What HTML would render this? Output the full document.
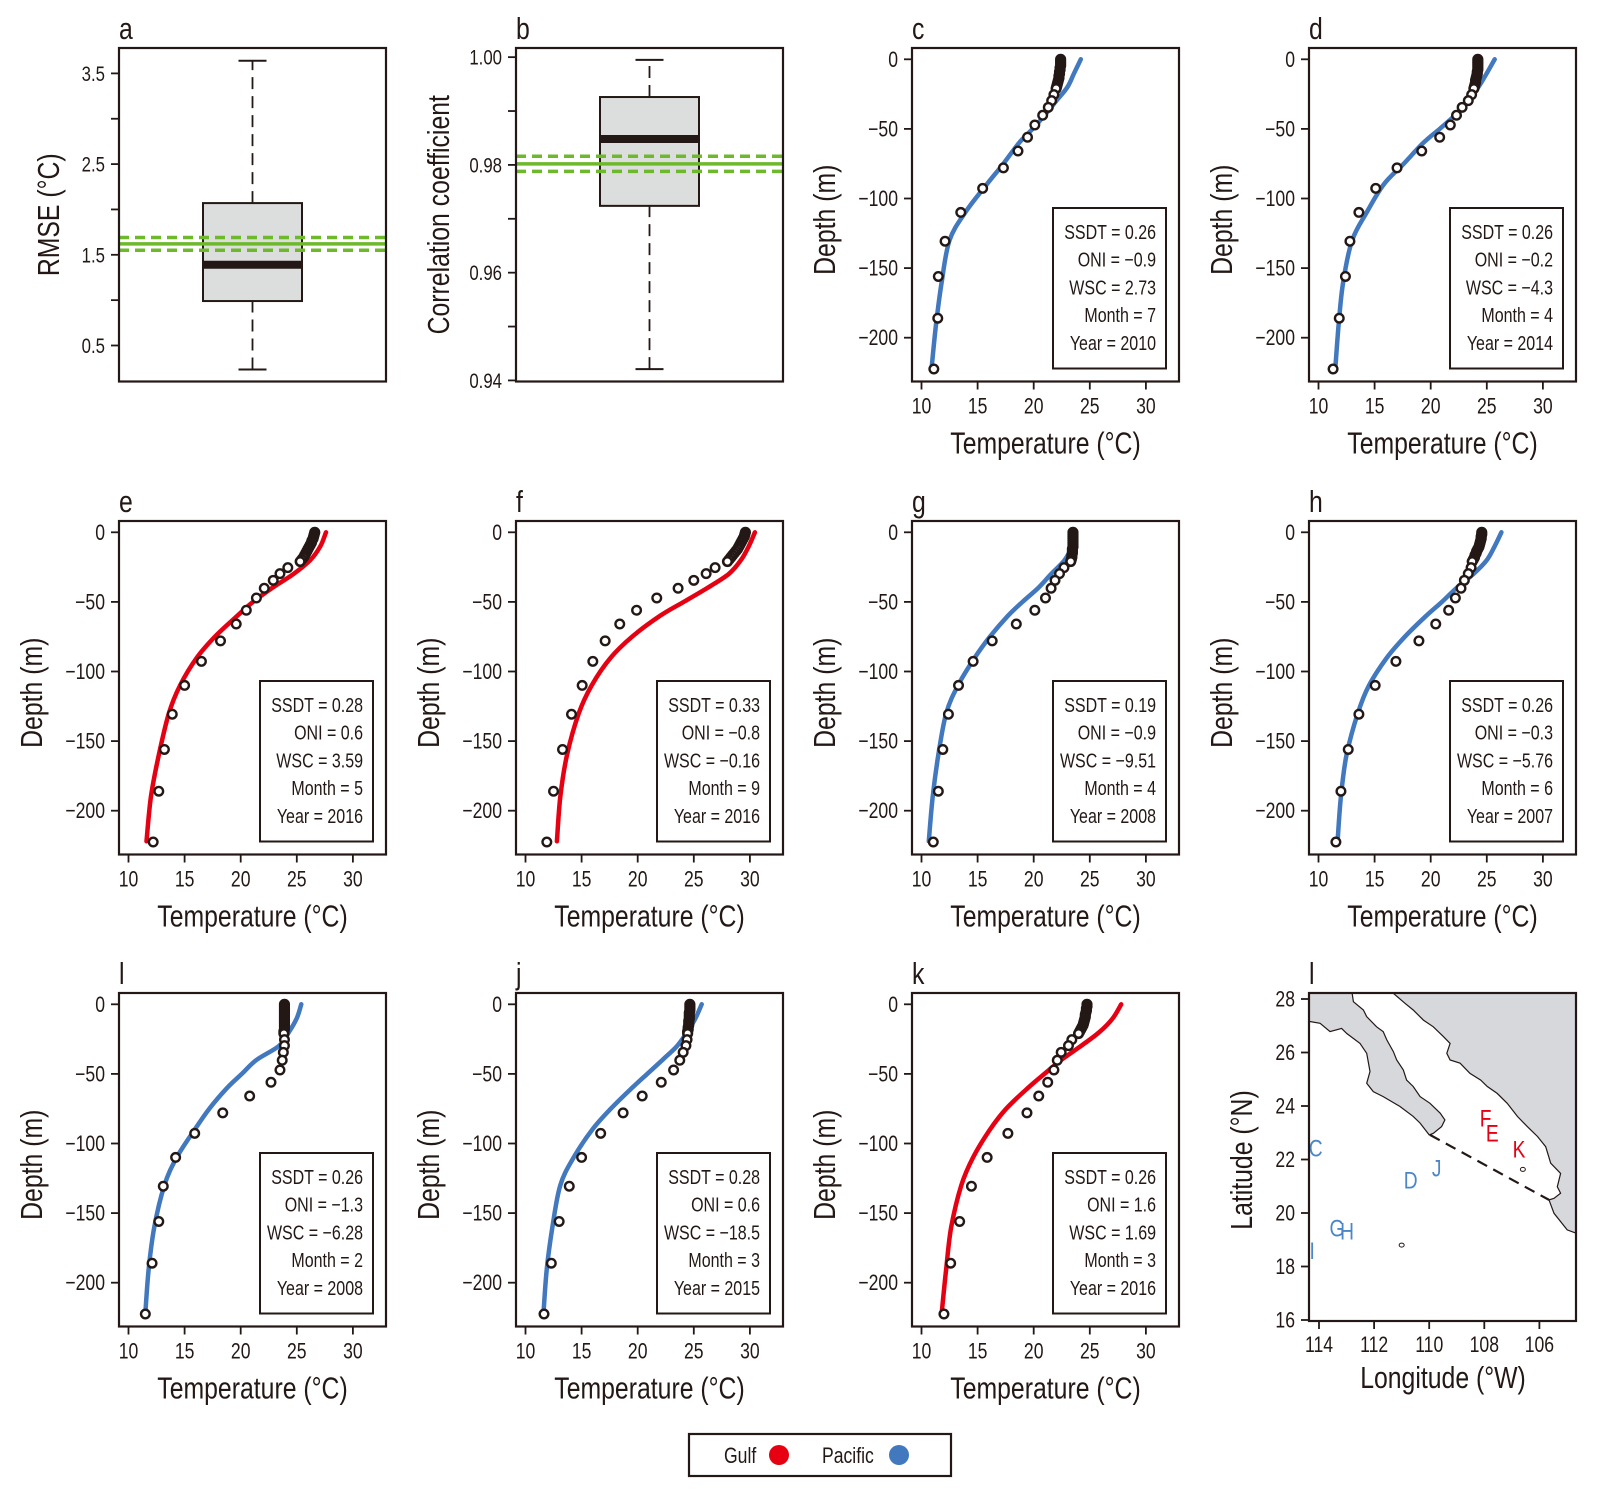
<!DOCTYPE html>
<html><head><meta charset="utf-8">
<style>
html,body{margin:0;padding:0;background:#fff;}
svg{display:block;}
text{font-family:"Liberation Sans Narrow","Liberation Sans",sans-serif;fill:#231815;}
</style></head>
<body>
<svg id="fig" width="1611" height="1491" viewBox="0 0 1611 1491" xmlns="http://www.w3.org/2000/svg"></svg>
<script>
// ---------- data ----------
const denseDepths = [0,-1.5,-3,-4.5,-6,-7.5,-9,-10.5,-12,-13.5,-15,-16.5,-18,-19.5,-21];
const obsDepths = [-25.4,-29.7,-34.5,-40.2,-47.2,-56,-65.9,-78,-92.7,-110,-130.7,-156,-186,-222.5];
const modelDepths = [0,-10,-20,-30,-40,-50,-60,-75,-90,-110,-130,-160,-190,-222];
const panelIds = ['c','d','e','f','g','h','l','j','k'];
const panelRegion = ['Pacific','Pacific','Gulf','Gulf','Pacific','Pacific','Pacific','Pacific','Gulf'];
const denseC=[22.4,22.4,22.4,22.4,22.35,22.35,22.3,22.3,22.25,22.25,22.2,22.15,22.1,22.05,22.0];
const obsC=[21.8,21.6,21.3,20.8,20.1,19.45,18.6,17.3,15.45,13.5,12.1,11.5,11.45,11.1];
const modelC=[24.2,23.6,23.0,22.0,21.0,19.9,18.7,17.3,15.8,13.9,12.5,11.8,11.3,10.9];
const denseD=[24.2,24.2,24.2,24.2,24.2,24.2,24.15,24.15,24.1,24.05,24.0,24.0,23.95,23.9,23.85];
const obsD=[23.65,23.35,22.8,22.3,21.75,20.8,19.2,17.0,15.1,13.6,12.8,12.4,11.85,11.3];
const modelD=[25.7,25.0,24.25,23.35,22.2,20.8,19.35,17.6,15.8,14.3,13.0,12.2,11.8,11.5];
const denseE=[26.6,26.55,26.5,26.45,26.35,26.3,26.2,26.1,26.0,25.9,25.8,25.7,25.6,25.45,25.3];
const obsE=[24.2,23.5,22.9,22.1,21.4,20.5,19.6,18.2,16.5,15.0,13.9,13.2,12.7,12.2];
const modelE=[27.6,27.1,26.2,24.7,22.8,21.1,19.7,17.7,16.1,14.6,13.6,12.7,12.0,11.6];
const denseF=[29.6,29.55,29.5,29.4,29.3,29.2,29.1,29.0,28.9,28.75,28.6,28.45,28.3,28.15,28.0];
const obsF=[26.9,26.1,25.0,23.6,21.7,19.9,18.4,17.1,16.0,15.05,14.1,13.3,12.5,11.9];
const modelF=[30.45,29.9,29.2,28.1,26.2,24.1,22.0,19.5,17.6,15.9,14.75,13.7,13.1,12.8];
const denseG=[23.5,23.5,23.5,23.5,23.5,23.5,23.5,23.5,23.45,23.45,23.45,23.4,23.4,23.35,23.3];
const obsG=[22.7,22.3,21.9,21.55,21.05,20.1,18.45,16.3,14.6,13.3,12.4,11.9,11.5,11.05];
const modelG=[23.5,23.4,22.75,21.55,20.4,19.0,17.7,16.1,14.75,13.25,12.2,11.5,11.0,10.65];
const denseH=[24.55,24.55,24.5,24.5,24.45,24.4,24.35,24.3,24.2,24.1,24.05,23.95,23.9,23.8,23.7];
const obsH=[23.6,23.35,23.0,22.7,22.2,21.6,20.45,18.95,16.9,15.05,13.6,12.65,12.0,11.55];
const modelH=[26.3,25.7,25.0,23.8,22.3,21.0,19.6,17.7,16.1,14.5,13.5,12.5,12.0,11.7];
const denseL=[23.9,23.9,23.9,23.9,23.9,23.9,23.9,23.9,23.9,23.9,23.9,23.9,23.9,23.85,23.85];
const obsL=[23.9,23.9,23.8,23.7,23.5,22.7,20.8,18.4,15.9,14.2,13.1,12.7,12.1,11.5];
const modelL=[25.4,25.0,24.3,23.4,21.4,20.1,18.8,17.2,15.9,14.3,13.2,12.3,11.8,11.5];
const denseJ=[24.65,24.65,24.65,24.65,24.6,24.6,24.6,24.6,24.55,24.55,24.55,24.5,24.5,24.45,24.45];
const obsJ=[24.4,24.3,24.05,23.75,23.2,22.1,20.4,18.7,16.7,15.0,13.9,13.0,12.3,11.65];
const modelJ=[25.7,25.15,24.4,23.5,22.2,20.85,19.5,17.6,15.95,14.3,13.1,12.4,11.9,11.6];
const denseK=[24.75,24.75,24.7,24.7,24.65,24.6,24.6,24.55,24.5,24.45,24.4,24.3,24.2,24.1,24.0];
const obsK=[23.4,23.1,22.45,22.1,21.8,21.25,20.45,19.4,17.7,15.85,14.45,13.4,12.6,12.0];
const modelK=[27.8,27.05,25.85,24.2,22.45,20.95,19.5,17.55,16.1,14.6,13.55,12.65,12.2,11.8];
const denseAll=[denseC,denseD,denseE,denseF,denseG,denseH,denseL,denseJ,denseK];
const obsAll=[obsC,obsD,obsE,obsF,obsG,obsH,obsL,obsJ,obsK];
const modelAll=[modelC,modelD,modelE,modelF,modelG,modelH,modelL,modelJ,modelK];
const ssdt=['0.26','0.26','0.28','0.33','0.19','0.26','0.26','0.28','0.26'];
const oni=['−0.9','−0.2','0.6','−0.8','−0.9','−0.3','−1.3','0.6','1.6'];
const wsc=['2.73','−4.3','3.59','−0.16','−9.51','−5.76','−6.28','−18.5','1.69'];
const months=['7','4','5','9','4','6','2','3','3'];
const years=['2010','2014','2016','2016','2008','2007','2008','2015','2016'];
const tempTicks=[10,15,20,25,30];
const depthTicks=[0,-50,-100,-150,-200];
// box plots
const rmseStats=[0.235,0.99,1.39,2.07,3.64];
const rmseRef=[1.55,1.62,1.69];
const rmseTicks=[0.5,1.0,1.5,2.0,2.5,3.0,3.5];
const rmseLabels=['0.5','','1.5','','2.5','','3.5'];
const corrStats=[0.9421,0.9724,0.9848,0.9926,0.9995];
const corrRef=[0.9788,0.9802,0.9816];
const corrTicks=[0.94,0.95,0.96,0.97,0.98,0.99,1.00];
const corrLabels=['0.94','','0.96','','0.98','','1.00'];
// map
const lonTicks=[114,112,110,108,106];
const latTicks=[16,18,20,22,24,26,28];
const bajaCoast=[[114.5,28.3],[112.81,28.3],[112.75,27.90],[112.39,27.59],[112.27,27.34],[111.91,26.96],[111.67,26.78],[111.54,26.47],[111.30,26.03],[111.18,25.72],[110.94,25.35],[110.82,24.97],[110.58,24.73],[110.33,24.35],[109.97,24.10],[109.60,23.73],[109.43,23.48],[109.55,23.23],[109.85,22.98],[110.0,22.92],[110.33,23.36],[110.58,23.61],[111.06,23.98],[111.67,24.35],[112.03,24.54],[112.27,24.85],[112.15,25.29],[112.27,25.97],[112.51,26.34],[112.99,26.71],[113.18,26.90],[113.60,26.78],[113.96,27.09],[114.5,27.19]];
const mainCoast=[[111.30,28.3],[104.5,28.3],[104.5,19.18],[104.99,19.37],[105.47,19.99],[105.65,20.49],[105.47,20.55],[105.23,20.74],[105.35,20.98],[105.23,21.48],[105.59,21.86],[105.77,22.48],[106.07,22.86],[106.44,23.23],[106.80,23.61],[107.17,24.10],[107.53,24.47],[107.89,24.73],[108.13,24.97],[108.52,25.22],[108.88,25.60],[109.24,25.72],[109.36,25.97],[109.24,26.34],[109.48,26.59],[109.85,26.96],[110.21,27.21],[110.58,27.59],[110.88,27.84],[111.30,28.21]];
const islands=[[106.6,21.63],[111.0,18.8]];
const boundary=[[109.97,22.92],[105.65,20.49]];
const stationNames=['C','D','J','F','E','K','G','H','I'];
const stationLon=[114.12,110.67,109.73,107.95,107.71,106.74,113.35,112.98,114.25];
const stationLat=[22.43,21.23,21.68,23.56,23.0,22.39,19.44,19.33,18.59];
const stationRegion=['Pacific','Pacific','Pacific','Gulf','Gulf','Gulf','Pacific','Pacific','Pacific'];

// ---------- drawing ----------
const NS='http://www.w3.org/2000/svg';
const svg=document.getElementById('fig');
const INK='#231815', BLUE='#4178be', RED='#e60012';
const COLS=[119,516,912,1309], ROWS=[48,521,993], W=267, H=333.5;
const SX=0.8;
function el(tag,attrs,parent){const e=document.createElementNS(NS,tag);for(const k in attrs)e.setAttribute(k,attrs[k]);(parent||svg).appendChild(e);return e;}
function txt(s,x,y,size,anchor,parent,extra,rot){
  const tr='translate('+x+','+y+')'+(rot?' rotate('+rot+')':'')+' scale('+SX+',1)';
  const t=el('text',Object.assign({x:0,y:0,'font-size':size,'text-anchor':anchor||'start',transform:tr},extra||{}),parent);t.textContent=s;return t;}
function smoothPath(pts){let d='M'+pts[0][0].toFixed(1)+','+pts[0][1].toFixed(1);
  for(let i=0;i<pts.length-1;i++){const p0=pts[Math.max(i-1,0)],p1=pts[i],p2=pts[i+1],p3=pts[Math.min(i+2,pts.length-1)];
    const c1=[p1[0]+(p2[0]-p0[0])/6,p1[1]+(p2[1]-p0[1])/6],c2=[p2[0]-(p3[0]-p1[0])/6,p2[1]-(p3[1]-p1[1])/6];
    d+=' C'+c1[0].toFixed(1)+','+c1[1].toFixed(1)+' '+c2[0].toFixed(1)+','+c2[1].toFixed(1)+' '+p2[0].toFixed(1)+','+p2[1].toFixed(1);}
  return d;}

const cells=[[0,2],[0,3],[1,0],[1,1],[1,2],[1,3],[2,0],[2,1],[2,2]];
panelIds.forEach((id,i)=>{
  const L=COLS[cells[i][1]], T=ROWS[cells[i][0]];
  const xs=t=>L+9.5+(t-10)*11.22;
  const ys=d=>T+11.3-d*1.392;
  const g=el('g',{});
  
  
  const lt=txt(id,L,T-9,31,'start',g);
  
  
  const col=panelRegion[i]==='Gulf'?RED:BLUE;
  const line=el('path',{d:smoothPath(modelDepths.map((d,k)=>[xs(modelAll[i][k]),ys(d)])),fill:'none',stroke:col,'stroke-width':4.5,'stroke-linecap':'round'},g);
  
  
  const og=el('g',{},g);
  
  
  denseDepths.forEach((d,k)=>{const c=el('circle',{cx:xs(denseAll[i][k]),cy:ys(d),r:4.3,fill:'#fff',stroke:INK,'stroke-width':2.6},og);
    });
  obsDepths.forEach((d,k)=>{const c=el('circle',{cx:xs(obsAll[i][k]),cy:ys(d),r:4.3,fill:'#fff',stroke:INK,'stroke-width':2.4},og);
    });
  const fr=el('rect',{x:L,y:T,width:W,height:H,fill:'none',stroke:INK,'stroke-width':2.2},g);
  
  
  tempTicks.forEach(t=>{el('line',{x1:xs(t),x2:xs(t),y1:T+H,y2:T+H+8,stroke:INK,'stroke-width':1.8},g);
    const tl=txt(String(t),xs(t),T+H+32,22,'middle',g);});
  depthTicks.forEach(d=>{el('line',{x1:L-8,x2:L,y1:ys(d),y2:ys(d),stroke:INK,'stroke-width':1.8},g);
    const tl=txt(d===0?'0':'−'+(-d),L-14,ys(d)+7.5,22,'end',g);});
  const xt=txt('Temperature (°C)',L+W/2,T+H+72,31,'middle',g);
  
  const yt=txt('Depth (m)',L-77,T+H/2+5,31,'middle',g,null,-90);
  
  const sb=el('g',{},g);
  
  
  const bx=L+141,by=T+160,bw=W-154,bh=H-173;
  el('rect',{x:bx,y:by,width:bw,height:bh,fill:'#fff',stroke:INK,'stroke-width':2},sb);
  const lines=['SSDT = '+ssdt[i],'ONI = '+oni[i],'WSC = '+wsc[i],'Month = '+months[i],'Year = '+years[i]];
  lines.forEach((s,k)=>{const t=txt(s,bx+bw-10,by+31+k*27.7,20,'end',sb);});
});

function boxPanel(id,L,T,lo,hi,stats,ref,ticks,labels,title){
  const ys=v=>T+H-(v-lo)/(hi-lo)*H;
  const g=el('g',{});
  
  
  const lt=txt(id,L,T-9,31,'start',g);
  const cx=L+W/2, bw=99;
  const wh=el('g',{},g);
  el('line',{x1:cx,x2:cx,y1:ys(stats[0]),y2:ys(stats[1]),stroke:INK,'stroke-width':1.8,'stroke-dasharray':'12,7'},wh);
  el('line',{x1:cx,x2:cx,y1:ys(stats[3]),y2:ys(stats[4]),stroke:INK,'stroke-width':1.8,'stroke-dasharray':'12,7'},wh);
  el('line',{x1:cx-14,x2:cx+14,y1:ys(stats[0]),y2:ys(stats[0]),stroke:INK,'stroke-width':2},wh);
  el('line',{x1:cx-14,x2:cx+14,y1:ys(stats[4]),y2:ys(stats[4]),stroke:INK,'stroke-width':2},wh);
  const b=el('rect',{x:cx-bw/2,y:ys(stats[3]),width:bw,height:ys(stats[1])-ys(stats[3]),fill:'#dcdddd',stroke:INK,'stroke-width':2},g);
  
  const m=el('line',{x1:cx-bw/2,x2:cx+bw/2,y1:ys(stats[2]),y2:ys(stats[2]),stroke:INK,'stroke-width':8},g);
  
  const r1=el('line',{x1:L,x2:L+W,y1:ys(ref[0]),y2:ys(ref[0]),stroke:'#6eb92b','stroke-width':3.5,'stroke-dasharray':'10,6'},g);
  
  const r2=el('line',{x1:L,x2:L+W,y1:ys(ref[1]),y2:ys(ref[1]),stroke:'#6eb92b','stroke-width':3.5},g);
  
  const r3=el('line',{x1:L,x2:L+W,y1:ys(ref[2]),y2:ys(ref[2]),stroke:'#6eb92b','stroke-width':3.5,'stroke-dasharray':'10,6'},g);
  
  const fr=el('rect',{x:L,y:T,width:W,height:H,fill:'none',stroke:INK,'stroke-width':2.2},g);
  
  ticks.forEach((v,k)=>{el('line',{x1:L-8,x2:L,y1:ys(v),y2:ys(v),stroke:INK,'stroke-width':1.8},g);
    if(labels[k]){const tl=txt(labels[k],L-14,ys(v)+7.5,21,'end',g);}});
  const yt=txt(title,L-(id==='a'?60:67),T+H/2,31,'middle',g,null,-90);
  
}
boxPanel('a',COLS[0],ROWS[0],0.103,3.78,rmseStats,rmseRef,rmseTicks,rmseLabels,'RMSE (°C)');
boxPanel('b',COLS[1],ROWS[0],0.9398,1.0017,corrStats,corrRef,corrTicks,corrLabels,'Correlation coefficient');

(function(){
  const L=COLS[3],T=ROWS[2];
  const xs=lon=>1319+(114-lon)*27.55;
  const ys=lat=>999+(28-lat)*26.75;
  const g=el('g',{});
  
  
  const lt=txt('l',L,T-9,31,'start',g);
  const defs=el('defs',{},g);const cp=el('clipPath',{id:'mapclip'},defs);
  el('rect',{x:L,y:T,width:W,height:328},cp);
  const land=el('g',{'clip-path':'url(#mapclip)'},g);
  
  const poly=c=>'M'+c.map(p=>xs(p[0]).toFixed(1)+','+ys(p[1]).toFixed(1)).join(' L')+' Z';
  const bj=el('path',{d:poly(bajaCoast),fill:'#d7d8dc',stroke:INK,'stroke-width':1.2},land);
  
  const mn=el('path',{d:poly(mainCoast),fill:'#d7d8dc',stroke:INK,'stroke-width':1.2},land);
  
  islands.forEach(p=>{const c=el('ellipse',{cx:xs(p[0]),cy:ys(p[1]),rx:2.5,ry:2,fill:'none',stroke:INK,'stroke-width':1},land);
    });
  const bd=el('line',{x1:xs(boundary[0][0]),y1:ys(boundary[0][1]),x2:xs(boundary[1][0]),y2:ys(boundary[1][1]),stroke:INK,'stroke-width':2.2,'stroke-dasharray':'11,7'},g);
  
  stationNames.forEach((s,k)=>{const t=txt(s,xs(stationLon[k]),ys(stationLat[k])+8.5,24,'middle',g,{style:'fill:'+(stationRegion[k]==='Gulf'?RED:'#4a86c8')});
    });
  const fr=el('rect',{x:L,y:T,width:W,height:328,fill:'none',stroke:INK,'stroke-width':2.2},g);
  
  lonTicks.forEach(v=>{el('line',{x1:xs(v),x2:xs(v),y1:T+328,y2:T+336,stroke:INK,'stroke-width':1.8},g);
    const tl=txt(String(v),xs(v),T+359,22,'middle',g);});
  latTicks.forEach(v=>{el('line',{x1:L-8,x2:L,y1:ys(v),y2:ys(v),stroke:INK,'stroke-width':1.8},g);
    const tl=txt(String(v),L-14,ys(v)+7.5,22,'end',g);});
  const xt=txt('Longitude (°W)',L+134,T+395,31,'middle',g);
  const yt=txt('Latitude (°N)',L-57,T+167,31,'middle',g,null,-90);
  
})();

(function(){
  const g=el('g',{});
  
  
  el('rect',{x:689,y:1434,width:262,height:42,fill:'#fff',stroke:INK,'stroke-width':2.2},g);
  const t1=txt('Gulf',724,1463,22,'start',g);
  const c1=el('circle',{cx:779,cy:1455,r:10,fill:RED},g);
  const t2=txt('Pacific',822,1463,22,'start',g);
  const c2=el('circle',{cx:899,cy:1455,r:10,fill:BLUE},g);
})();
</script>
</body></html>
